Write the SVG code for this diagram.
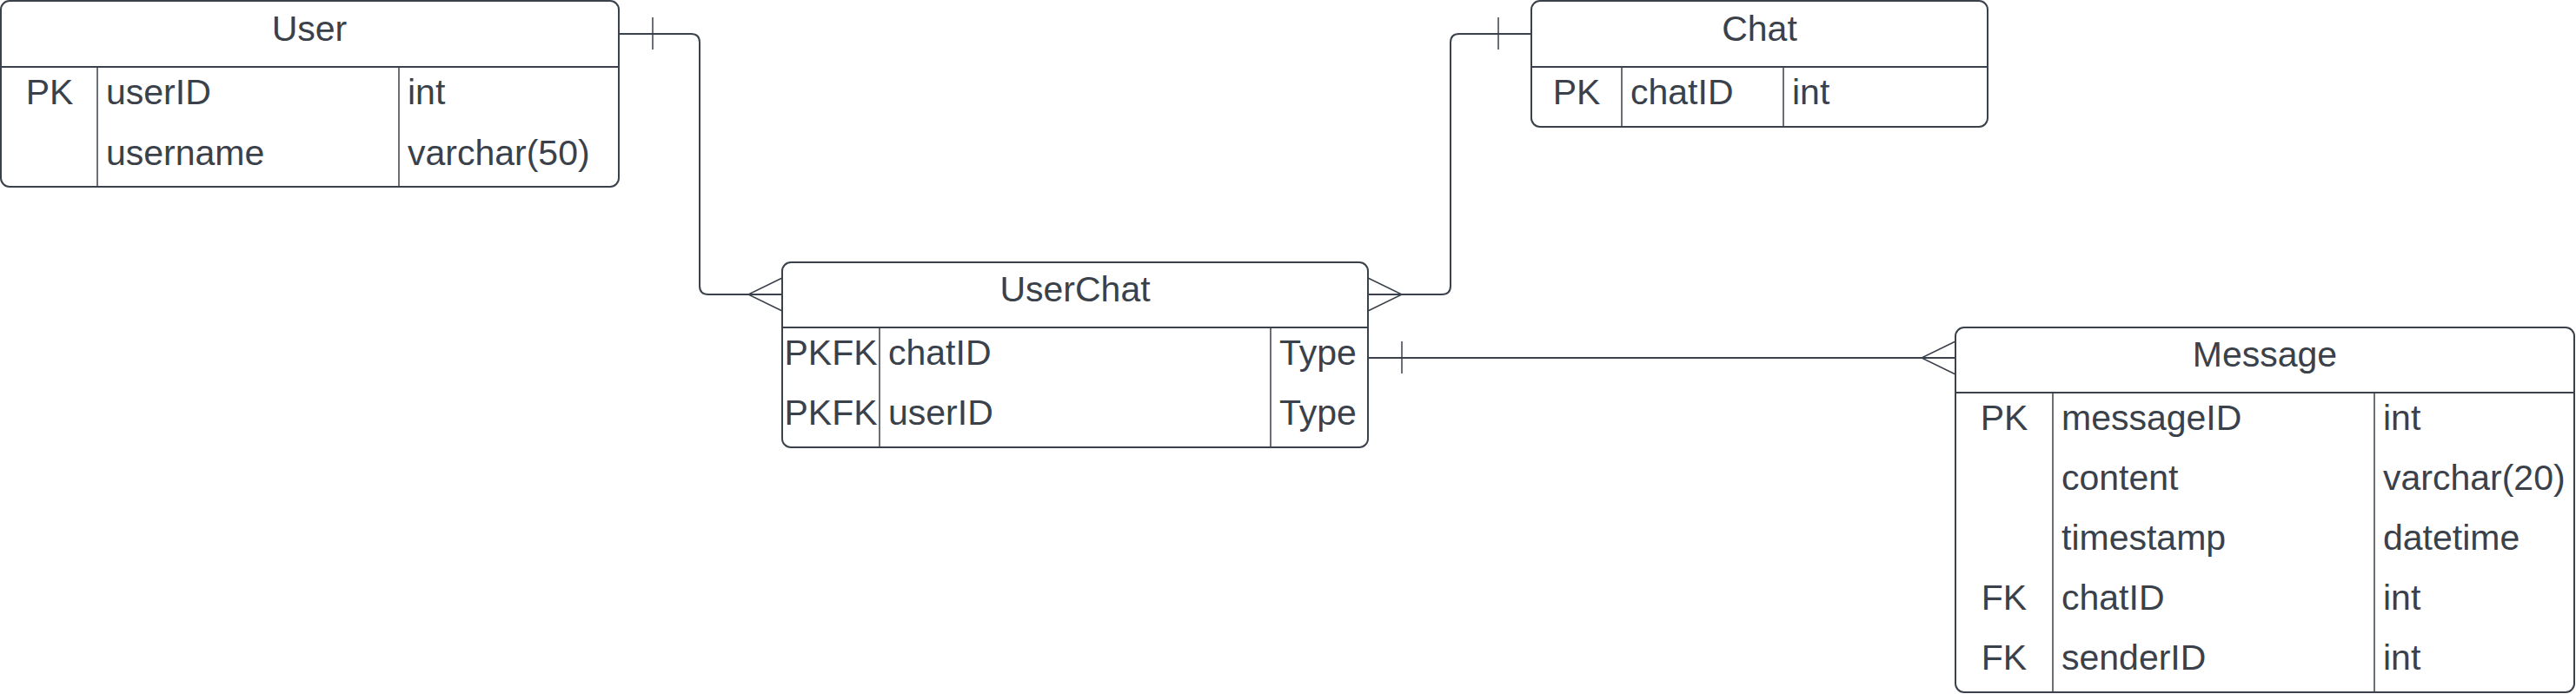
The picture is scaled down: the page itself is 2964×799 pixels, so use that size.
<svg xmlns="http://www.w3.org/2000/svg" width="2964" height="799" viewBox="0 0 2964 799">
<style>
.box{fill:#ffffff;stroke:#3a414a;stroke-width:2}
.hl{stroke:#3a414a;stroke-width:2}
.div{stroke:#3a414a;stroke-width:1.5}
.con{fill:none;stroke:#3a414a;stroke-width:2}
.tick{fill:none;stroke:#3a414a;stroke-width:1.5}
text{font-family:"Liberation Sans",Arial,sans-serif;font-size:41px;fill:#3a414a}
.c{text-anchor:middle}
</style>
<rect width="2964" height="799" fill="#ffffff"/>
<g id="connectors">
  <path class="con" d="M712,39 H795 Q805,39 805,49 V329 Q805,339 815,339 H900"/>
  <path class="tick" d="M751,20 V57"/>
  <path class="tick" d="M900,320 L861,339 L900,358"/>
  <path class="con" d="M1574,339 H1659 Q1669,339 1669,329 V49 Q1669,39 1679,39 H1762"/>
  <path class="tick" d="M1574,320 L1613,339 L1574,358"/>
  <path class="tick" d="M1724,20 V57"/>
  <path class="con" d="M1574,412 H2250"/>
  <path class="tick" d="M1613,393 V430"/>
  <path class="tick" d="M2250,393 L2211,412 L2250,431"/>
</g>
<g id="User">
  <rect class="box" x="1" y="1" width="711" height="214" rx="10"/>
  <line class="hl" x1="1" y1="77" x2="712" y2="77"/>
  <line class="div" x1="112" y1="77" x2="112" y2="215"/>
  <line class="div" x1="459" y1="77" x2="459" y2="215"/>
  <text class="c" x="356" y="47">User</text>
  <text class="c" x="57" y="120">PK</text>
  <text x="122" y="120">userID</text>
  <text x="469" y="120">int</text>
  <text x="122" y="190">username</text>
  <text x="469" y="190">varchar(50)</text>
</g>
<g id="Chat">
  <rect class="box" x="1762" y="1" width="525" height="145" rx="10"/>
  <line class="hl" x1="1762" y1="77" x2="2287" y2="77"/>
  <line class="div" x1="1866" y1="77" x2="1866" y2="146"/>
  <line class="div" x1="2052" y1="77" x2="2052" y2="146"/>
  <text class="c" x="2024.5" y="47">Chat</text>
  <text class="c" x="1814" y="120">PK</text>
  <text x="1876" y="120">chatID</text>
  <text x="2062" y="120">int</text>
</g>
<g id="UserChat">
  <rect class="box" x="900" y="302" width="674" height="213" rx="10"/>
  <line class="hl" x1="900" y1="377" x2="1574" y2="377"/>
  <line class="div" x1="1012" y1="377" x2="1012" y2="515"/>
  <line class="div" x1="1462" y1="377" x2="1462" y2="515"/>
  <text class="c" x="1237" y="347">UserChat</text>
  <text class="c" x="956" y="420">PKFK</text>
  <text x="1022" y="420">chatID</text>
  <text x="1472" y="420">Type</text>
  <text class="c" x="956" y="489">PKFK</text>
  <text x="1022" y="489">userID</text>
  <text x="1472" y="489">Type</text>
</g>
<g id="Message">
  <rect class="box" x="2250" y="377" width="712" height="420" rx="10"/>
  <line class="hl" x1="2250" y1="452" x2="2962" y2="452"/>
  <line class="div" x1="2362" y1="452" x2="2362" y2="797"/>
  <line class="div" x1="2732" y1="452" x2="2732" y2="797"/>
  <text class="c" x="2606" y="422">Message</text>
  <text class="c" x="2306" y="495">PK</text>
  <text x="2372" y="495">messageID</text>
  <text x="2742" y="495">int</text>
  <text x="2372" y="564">content</text>
  <text x="2742" y="564">varchar(20)</text>
  <text x="2372" y="633">timestamp</text>
  <text x="2742" y="633">datetime</text>
  <text class="c" x="2306" y="702">FK</text>
  <text x="2372" y="702">chatID</text>
  <text x="2742" y="702">int</text>
  <text class="c" x="2306" y="771">FK</text>
  <text x="2372" y="771">senderID</text>
  <text x="2742" y="771">int</text>
</g>
</svg>
